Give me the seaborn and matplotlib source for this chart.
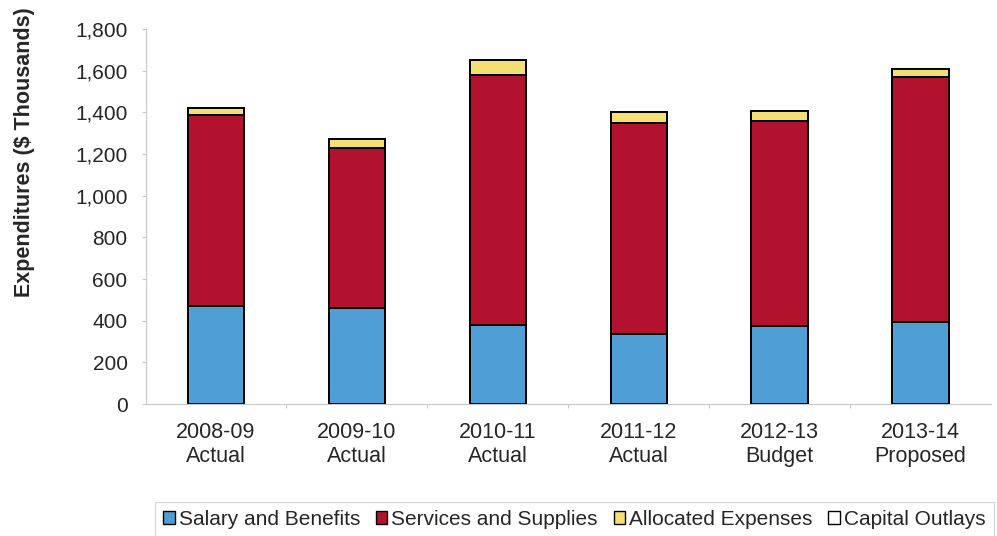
import matplotlib
matplotlib.use("Agg")
import matplotlib.pyplot as plt
from matplotlib.patches import Patch
from matplotlib.ticker import FuncFormatter
import numpy as np
import pandas as pd
import seaborn as sns

# Expenditures by fiscal year, $ thousands
years = ["2008-09\nActual", "2009-10\nActual", "2010-11\nActual",
         "2011-12\nActual", "2012-13\nBudget", "2013-14\nProposed"]
salary_benefits = [470, 460, 380, 335, 375, 395]
services_supplies = [915, 770, 1200, 1015, 985, 1175]
allocated_expenses = [35, 40, 70, 50, 45, 37]
capital_outlays = [0, 0, 0, 0, 0, 0]

series_names = ["Salary and Benefits", "Services and Supplies",
                "Allocated Expenses", "Capital Outlays"]
series_colors = ["#4f9fd6", "#b3122e", "#f3df73", "#ffffff"]

df = pd.DataFrame({
    "year": years,
    "Salary and Benefits": salary_benefits,
    "Services and Supplies": services_supplies,
    "Allocated Expenses": allocated_expenses,
    "Capital Outlays": capital_outlays,
})

sns.set_theme(style="white")
plt.rcParams["font.family"] = ["Liberation Sans", "DejaVu Sans"]

fig = plt.figure(figsize=(9.97, 5.36), dpi=100)
ax = fig.add_axes([0.146, 0.246, 0.848, 0.70])

# stacked bars: draw cumulative totals from the top segment down
cum = df[series_names].cumsum(axis=1)
for name, color in reversed(list(zip(series_names, series_colors))):
    sns.barplot(x=df["year"], y=cum[name], color=color, width=0.4,
                edgecolor="black", linewidth=1.4, saturation=1,
                ax=ax, zorder=2)

ax.set_ylim(0, 1800)
ax.set_yticks(np.arange(0, 1801, 200))
ax.yaxis.set_major_formatter(FuncFormatter(lambda v, p: f"{int(v):,}"))
ax.set_xlim(-0.5, 5.5)
ax.set_xlabel("")
ax.set_ylabel("Expenditures ($ Thousands)", fontsize=15.5, fontweight="bold")
ax.yaxis.set_label_coords(-0.131, 0.672)

for s in ["top", "right"]:
    ax.spines[s].set_visible(False)
for s in ["left", "bottom"]:
    ax.spines[s].set_color("#c8c8c8")
    ax.spines[s].set_linewidth(0.8)

ax.tick_params(axis="y", labelsize=15, left=True, length=3, width=0.8,
               color="#c8c8c8", pad=10)
ax.tick_params(axis="x", labelsize=15.5, bottom=False, pad=7)
for lbl in ax.get_xticklabels():
    lbl.set_linespacing(1.15)
ax.set_xticks(np.arange(0.5, 5.5, 1.0), minor=True)
ax.tick_params(axis="x", which="minor", bottom=True, length=3, width=0.8,
               color="#c8c8c8")

handles = [Patch(facecolor=c, edgecolor="black", linewidth=1.0, label=n)
           for n, c in zip(series_names, series_colors)]
leg = fig.legend(handles=handles, loc="lower center", ncol=4,
                 bbox_to_anchor=(0.576, -0.022), frameon=True, fontsize=15,
                 handlelength=0.55, handleheight=0.55, handletextpad=0.2,
                 columnspacing=0.75, fancybox=False, borderpad=0.4)
leg.get_frame().set_edgecolor("#cccccc")
leg.get_frame().set_linewidth(0.8)

fig.savefig("out.png", dpi=100)
